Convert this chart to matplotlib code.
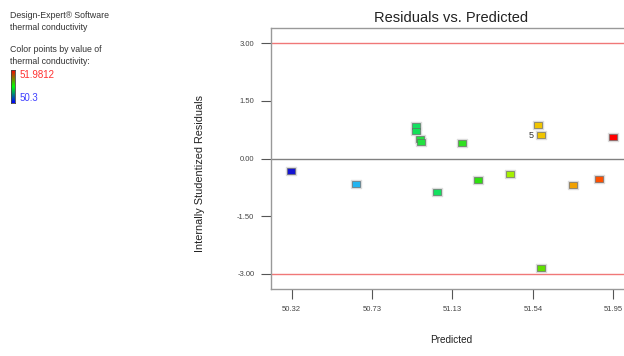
import matplotlib
matplotlib.use("Agg")
import matplotlib.pyplot as plt
import numpy as np
from matplotlib.colors import LinearSegmentedColormap

plt.rcParams['font.family'] = ['Liberation Sans', 'DejaVu Sans']

# Data
predicted = [50.316, 50.647, 50.951, 50.948, 50.969, 50.974, 51.056, 51.183,
             51.264, 51.425, 51.568, 51.582, 51.744, 51.879, 51.947, 51.582]
residuals = [-0.32, -0.66, 0.85, 0.72, 0.50, 0.43, -0.86, 0.40,
             -0.57, -0.39, 0.87, 0.60, -0.69, -0.52, 0.57, -2.84]
point_colors = ['#1414d2', '#22b4f0', '#12e060', '#12e058', '#22e040', '#22e040',
                '#14e060', '#30e020', '#30e010', '#a4f000', '#f0c400', '#f0c400',
                '#f0a000', '#ff5000', '#ff0000', '#60e000']
xtick_vals = [50.32, 50.7275, 51.135, 51.5425, 51.95]
xtick_labels = ['50.32', '50.73', '51.13', '51.54', '51.95']
ytick_vals = [-3.0, -1.5, 0.0, 1.5, 3.0]
ytick_labels = ['-3.00', '-1.50', '0.00', '1.50', '3.00']
limit_lines = [-3.0, 3.0]
label_point = (51.582, 0.60, '5')
color_max = '51.9812'
color_min = '50.3'

W, H = 624, 356
fig = plt.figure(figsize=(W / 100, H / 100), dpi=100)

def fx(px):
    return px / W

def fy(py):
    return 1 - py / H

ax_left, ax_right, ax_top, ax_bot = 271, 631, 28, 289
ax = fig.add_axes([fx(ax_left), fy(ax_bot), fx(ax_right - ax_left), (ax_bot - ax_top) / H])

ax.set_xlim(50.215, 52.04)
ax.set_ylim(-3.39, 3.39)

for v in limit_lines:
    ax.axhline(v, color='#f07878', lw=1.0, zorder=1)
ax.axhline(0, color='#808080', lw=1.0, zorder=1)

# rectangular marker
rect = [(-1.5, -1), (1.5, -1), (1.5, 1), (-1.5, 1), (-1.5, -1)]
for x, y, c in zip(predicted, residuals, point_colors):
    ax.plot(x, y, marker=rect, ms=7.6, color='#dcdcdc', mec='#dcdcdc', ls='none', zorder=2)
    ax.plot(x, y, marker=rect, ms=6.0, color=c, mec='#666666', mew=0.45, ls='none', zorder=3)

ax.text(label_point[0] - 0.033, label_point[1], label_point[2], fontsize=6.5,
        color='#333333', ha='right', va='center', zorder=4)

ax.set_xticks(xtick_vals)
ax.set_xticklabels(xtick_labels)
ax.set_yticks(ytick_vals)
ax.set_yticklabels(ytick_labels)
ax.tick_params(axis='both', direction='out', length=7, width=0.8, color='#555555',
               labelsize=5.5, labelcolor='#444444', pad=5)
for s in ax.spines.values():
    s.set_color('#999999')
    s.set_linewidth(1.0)

fig.text(fx(451), fy(18), 'Residuals vs. Predicted', ha='center', va='center',
         fontsize=10.5, color='#222222')
fig.text(fx(451), fy(340), 'Predicted', ha='center', va='center', fontsize=7.2, color='#222222')
fig.text(fx(200), fy(173), 'Internally Studentized Residuals', ha='center', va='center',
         rotation=90, fontsize=7.8, color='#222222')

# left annotation block
txt_kw = dict(fontsize=6.3, color='#333333', ha='left', va='center')
fig.text(fx(10), fy(15), 'Design-Expert® Software', **txt_kw)
fig.text(fx(10), fy(27), 'thermal conductivity', **txt_kw)
fig.text(fx(10), fy(50), 'Color points by value of', **txt_kw)
fig.text(fx(10), fy(62), 'thermal conductivity:', **txt_kw)

cmap = LinearSegmentedColormap.from_list('bgr', ['#0000ff', '#00ff00', '#ff0000'])
cax = fig.add_axes([fx(11), fy(103), fx(4), (103 - 70) / H])
grad = np.linspace(0, 1, 100).reshape(-1, 1)
cax.imshow(grad, aspect='auto', cmap=cmap, origin='lower')
cax.set_xticks([])
cax.set_yticks([])
for s in cax.spines.values():
    s.set_color('#444444')
    s.set_linewidth(0.6)
fig.text(fx(20), fy(75), color_max, fontsize=7, color='#ff3030', ha='left', va='center')
fig.text(fx(20), fy(98), color_min, fontsize=7, color='#4040ff', ha='left', va='center')

fig.savefig('out.png', dpi=100)
